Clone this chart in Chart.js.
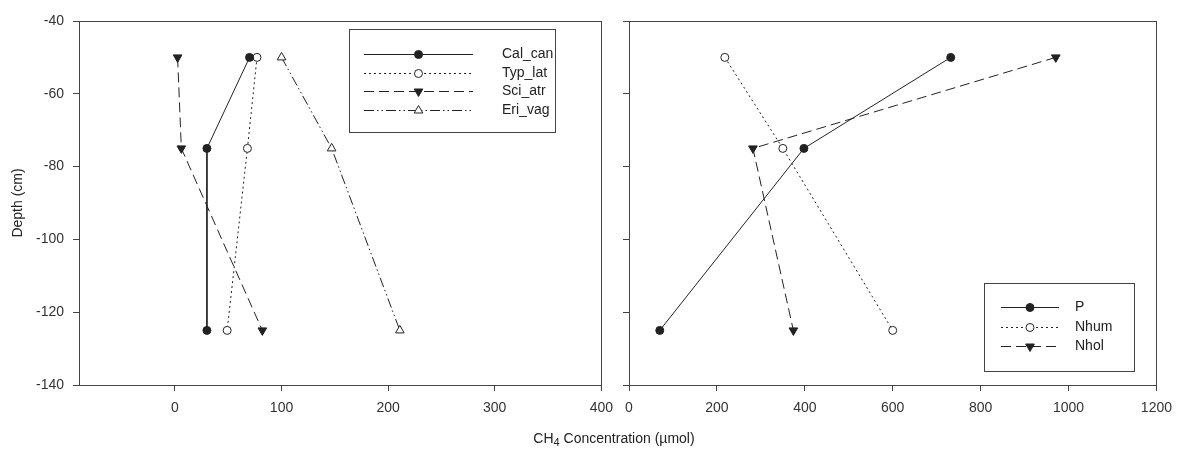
<!DOCTYPE html>
<html>
<head>
<meta charset="utf-8">
<script src="https://cdn.jsdelivr.net/npm/chart.js@4/dist/chart.umd.min.js"></script>
<style>
  body { margin: 0; background: #fff; width: 1177px; height: 460px; overflow: hidden; position: relative;
         font-family: "Liberation Sans", Arial, sans-serif; }
  canvas { position: absolute; top: 0; }
  #leftChart { left: 0; }
  #rightChart { left: 615px; }
  #xTitle { position: absolute; left: 414px; width: 400px; top: 430px; text-align: center;
            font-size: 14px; color: #222; line-height: 16px; }
  #xTitle sub { font-size: 11px; vertical-align: -3px; line-height: 0; }
</style>
</head>
<body>
<canvas id="leftChart" width="622" height="460"></canvas>
<canvas id="rightChart" width="566" height="460"></canvas>
<div id="xTitle">CH<sub>4</sub> Concentration (µmol)</div>
<script>
// depth of each sample (cm)
var depths = [-50, -75, -125];

// left panel: plant species
var calCan = [70, 30, 30];
var typLat = [77, 68, 49];
var sciAtr = [2.5, 6, 82];
var eriVag = [100, 147, 211];

// right panel: sites
var siteP = [732, 398, 70];
var siteNhum = [218, 350, 600];
var siteNhol = [971, 282, 374];

var leftXTicks = [0, 100, 200, 300, 400];
var rightXTicks = [0, 200, 400, 600, 800, 1000, 1200];
var depthTicks = [-140, -120, -100, -80, -60, -40];

var ink = '#222';
var axisColor = '#444';
var fontName = '"Liberation Sans", Arial, sans-serif';

var toPoints = function(values) {
  return values.map(function(v, i) { return { x: v, y: depths[i] }; });
};

var makeSeries = function(label, values, dash, style, filled, rotation) {
  return {
    label: label,
    data: toPoints(values),
    showLine: true,
    borderColor: ink,
    borderWidth: 1,
    borderDash: dash,
    pointStyle: style,
    pointRotation: rotation || 0,
    pointRadius: style === 'triangle' ? 5 : 4,
    pointBackgroundColor: filled ? ink : '#fff',
    pointBorderColor: ink,
    pointBorderWidth: 1
  };
};

// box round the plot area
var frame = {
  id: 'frame',
  afterDraw: function(chart) {
    var a = chart.chartArea, ctx = chart.ctx;
    ctx.save();
    ctx.strokeStyle = axisColor;
    ctx.lineWidth = 1;
    ctx.strokeRect(Math.round(a.left) + 0.5, Math.round(a.top) + 0.5,
                   Math.round(a.right - a.left), Math.round(a.bottom - a.top));
    ctx.restore();
  }
};

// legend in a box, line sample with the marker in its middle
var boxLegend = {
  id: 'boxLegend',
  afterDraw: function(chart, args, o) {
    var ctx = chart.ctx;
    ctx.save();
    ctx.strokeStyle = axisColor;
    ctx.lineWidth = 1;
    ctx.strokeRect(o.x + 0.5, o.y + 0.5, o.w, o.h);
    chart.data.datasets.forEach(function(ds, i) {
      var y = Math.round(o.y + o.rowTop + i * o.rowGap) + 0.5;
      ctx.strokeStyle = ds.borderColor;
      ctx.setLineDash(ds.borderDash || []);
      ctx.beginPath();
      ctx.moveTo(o.x + o.lineStart, y);
      ctx.lineTo(o.x + o.lineEnd, y);
      ctx.stroke();
      ctx.setLineDash([]);
      ctx.fillStyle = ds.pointBackgroundColor;
      ctx.strokeStyle = ds.pointBorderColor;
      Chart.helpers.drawPoint(ctx, {
        pointStyle: ds.pointStyle, radius: ds.pointRadius,
        rotation: ds.pointRotation, borderWidth: 1
      }, o.x + (o.lineStart + o.lineEnd) / 2, y);
      ctx.fillStyle = ink;
      ctx.font = '14px ' + fontName;
      ctx.textBaseline = 'middle';
      ctx.fillText(ds.label, o.x + o.textX, y);
    });
    ctx.restore();
  }
};

var setTicks = function(values) {
  return function(scale) {
    scale.ticks = values.map(function(v) { return { value: v }; });
  };
};

var plainLabel = function(value) { return String(value); };

var tickFont = { family: fontName, size: 14 };

var makeOptions = function(xMin, xMax, xTicks, showY, yWidth, legend) {
  return {
    responsive: false,
    animation: false,
    layout: { padding: { top: 21, right: 0, left: 0, bottom: 0 } },
    plugins: {
      legend: { display: false },
      tooltip: { enabled: false },
      boxLegend: legend
    },
    scales: {
      x: {
        type: 'linear', min: xMin, max: xMax,
        afterBuildTicks: setTicks(xTicks),
        afterFit: function(scale) { scale.height = 75; },
        grid: { drawOnChartArea: false, drawTicks: true, tickLength: 6, color: axisColor },
        border: { color: axisColor },
        ticks: { color: '#333', font: tickFont, padding: 9, maxRotation: 0, callback: plainLabel }
      },
      y: {
        type: 'linear', min: -140, max: -40,
        afterBuildTicks: setTicks(depthTicks),
        afterFit: function(scale) { scale.width = yWidth; },
        grid: { drawOnChartArea: false, drawTicks: true, tickLength: 6, color: axisColor },
        border: { color: axisColor },
        ticks: { display: showY, color: '#333', font: tickFont, padding: 9, callback: plainLabel },
        title: {
          display: showY, text: 'Depth (cm)', color: ink,
          font: { family: fontName, size: 14 }, padding: { top: 10, bottom: 0 }
        }
      }
    }
  };
};

new Chart(document.getElementById('leftChart'), {
  type: 'scatter',
  data: {
    datasets: [
      makeSeries('Cal_can', calCan, [], 'circle', true),
      makeSeries('Typ_lat', typLat, [2, 3], 'circle', false),
      makeSeries('Sci_atr', sciAtr, [10, 5], 'triangle', true, 180),
      makeSeries('Eri_vag', eriVag, [10, 3, 1.5, 3, 1.5, 3], 'triangle', false)
    ]
  },
  options: makeOptions(-90, 400, leftXTicks, true, 79,
    { x: 349, y: 29, w: 206, h: 103, rowTop: 25, rowGap: 18.7, lineStart: 15, lineEnd: 124, textX: 153 }),
  plugins: [frame, boxLegend]
});

new Chart(document.getElementById('rightChart'), {
  type: 'scatter',
  data: {
    datasets: [
      makeSeries('P', siteP, [], 'circle', true),
      makeSeries('Nhum', siteNhum, [2, 3], 'circle', false),
      makeSeries('Nhol', siteNhol, [10, 5], 'triangle', true, 180)
    ]
  },
  options: makeOptions(0, 1200, rightXTicks, false, 14,
    { x: 369, y: 283, w: 150, h: 88, rowTop: 24, rowGap: 19.5, lineStart: 17, lineEnd: 75, textX: 91 }),
  plugins: [frame, boxLegend]
});
</script>
</body>
</html>
